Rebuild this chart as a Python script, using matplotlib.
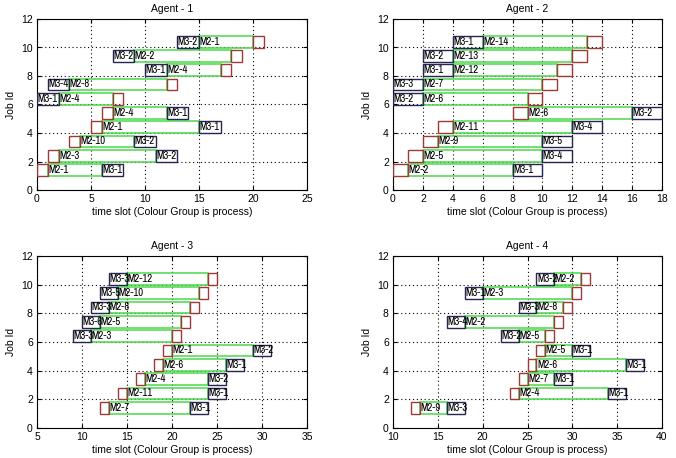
import matplotlib
matplotlib.use("Agg")
import matplotlib.pyplot as plt
from matplotlib.patches import Rectangle
from matplotlib import font_manager

plt.rcParams['font.family'] = ['Liberation Sans', 'DejaVu Sans']

# ---- data ----
agent1_m1 = [0, 1, 3, 5, 6, 7, 12, 17, 18, 20]
agent1_m3 = [6, 11, 9, 15, 12, 0, 1, 10, 7, 13]
agent1_m2_lbl = ['M2-1', 'M2-3', 'M2-10', 'M2-1', 'M2-4', 'M2-4', 'M2-8', 'M2-4', 'M2-2', 'M2-1']
agent1_m3_lbl = ['M3-1', 'M3-2', 'M3-2', 'M3-1', 'M3-1', 'M3-1', 'M3-4', 'M3-1', 'M3-2', 'M3-2']

agent2_m1 = [0, 1, 2, 3, 8, 9, 10, 11, 12, 13]
agent2_m3 = [8, 10, 10, 12, 16, 0, 0, 2, 2, 4]
agent2_m2_lbl = ['M2-2', 'M2-5', 'M2-9', 'M2-11', 'M2-6', 'M2-6', 'M2-7', 'M2-12', 'M2-13', 'M2-14']
agent2_m3_lbl = ['M3-1', 'M3-4', 'M3-5', 'M3-4', 'M3-2', 'M3-2', 'M3-3', 'M3-1', 'M3-2', 'M3-1']

agent3_m1 = [12, 14, 16, 18, 19, 20, 21, 22, 23, 24]
agent3_m3 = [22, 24, 24, 26, 29, 9, 10, 11, 12, 13]
agent3_m2_lbl = ['M2-7', 'M2-11', 'M2-4', 'M2-6', 'M2-1', 'M2-3', 'M2-5', 'M2-8', 'M2-10', 'M2-12']
agent3_m3_lbl = ['M3-1', 'M3-1', 'M3-2', 'M3-1', 'M3-2', 'M3-3', 'M3-6', 'M3-3', 'M3-5', 'M3-3']

agent4_m1 = [12, 23, 24, 25, 26, 27, 28, 29, 30, 31]
agent4_m3 = [16, 34, 28, 36, 30, 22, 16, 24, 18, 26]
agent4_m2_lbl = ['M2-9', 'M2-4', 'M2-7', 'M2-6', 'M2-5', 'M2-5', 'M2-2', 'M2-8', 'M2-3', 'M2-2']
agent4_m3_lbl = ['M3-3', 'M3-1', 'M3-1', 'M3-1', 'M3-1', 'M3-2', 'M3-4', 'M3-3', 'M3-1', 'M3-2']

jobs = list(range(1, 11))
m1_len = 1
m3_len = 2

agents = [
    ("Agent - 1", agent1_m1, agent1_m3, agent1_m2_lbl, agent1_m3_lbl, (0, 25), list(range(0, 26, 5))),
    ("Agent - 2", agent2_m1, agent2_m3, agent2_m2_lbl, agent2_m3_lbl, (0, 18), list(range(0, 19, 2))),
    ("Agent - 3", agent3_m1, agent3_m3, agent3_m2_lbl, agent3_m3_lbl, (5, 35), list(range(5, 36, 5))),
    ("Agent - 4", agent4_m1, agent4_m3, agent4_m2_lbl, agent4_m3_lbl, (10, 40), list(range(10, 41, 5))),
]

installed = {f.name for f in font_manager.fontManager.ttflist}
if 'Archivo Narrow' in installed:
    box_family, box_fs = ['Archivo Narrow', 'Liberation Sans'], 7.8
else:
    box_family, box_fs = ['Liberation Sans'], 6.3

W, H = 676, 458
fig = plt.figure(figsize=(W / 100, H / 100), dpi=100)

# axes boxes in pixels: left, top, right, bottom
boxes = [
    (37, 19, 307, 190),
    (393, 19, 662, 190),
    (37, 256, 307, 428),
    (393, 256, 662, 428),
]

RED = '#a03838'
NAVY = '#262650'
GREEN = '#4cd84c'
h = 0.82

for (title, m1, m3, l2, l3, xlim, xt), (l, t, r, b) in zip(agents, boxes):
    ax = fig.add_axes([l / W, 1 - b / H, (r - l) / W, (b - t) / H])
    ax.set_xlim(*xlim)
    ax.set_ylim(0, 12)
    ax.set_xticks(xt)
    ax.set_yticks(range(0, 13, 2))
    ax.grid(True, linestyle=(0, (1, 2.5)), color='black', linewidth=0.8)
    ax.set_axisbelow(True)
    ax.tick_params(labelsize=7.5, length=3, direction='in', top=True, right=True, pad=3)
    for s in ax.spines.values():
        s.set_linewidth(0.8)
    ax.set_title(title, fontsize=7.5, pad=5)
    ax.set_xlabel('time slot (Colour Group is process)', fontsize=7.5, labelpad=2)
    ax.set_ylabel('Job Id', fontsize=7.5, labelpad=4)
    for j, a, c, t2, t3 in zip(jobs, m1, m3, l2, l3):
        if a < c:
            g0, g1 = a + m1_len, c
        else:
            g0, g1 = c + m3_len, a
        ax.add_patch(Rectangle((g0, j), g1 - g0, h, fill=False, edgecolor=GREEN, linewidth=1.1, zorder=2))
        ax.add_patch(Rectangle((a, j), m1_len, h, fill=False, edgecolor=RED, linewidth=1.0, zorder=3))
        ax.add_patch(Rectangle((c, j), m3_len, h, fill=False, edgecolor=NAVY, linewidth=1.0, zorder=3))
        ax.annotate(t2, (g0, j + h / 2), xytext=(0.3, 0), textcoords='offset points',
                    ha='left', va='center', fontsize=box_fs, family=box_family, zorder=4)
        ax.annotate(t3, (c, j + h / 2), xytext=(0.3, 0), textcoords='offset points',
                    ha='left', va='center', fontsize=box_fs, family=box_family, zorder=4)

fig.savefig('out.png', dpi=100)
